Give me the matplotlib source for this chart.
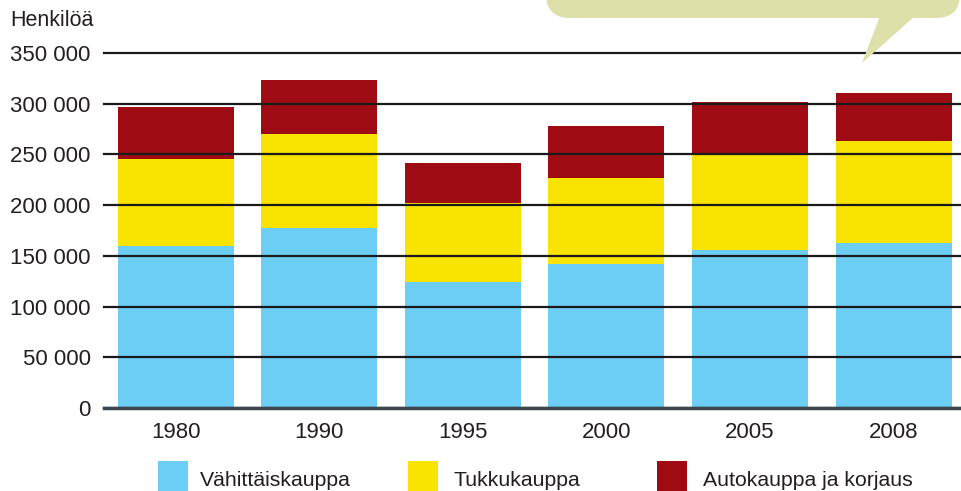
import matplotlib
matplotlib.use("Agg")
import matplotlib.pyplot as plt
from matplotlib.patches import FancyBboxPatch, Polygon, Rectangle
from matplotlib.transforms import Affine2D
from matplotlib.ticker import FuncFormatter

years = ["1980", "1990", "1995", "2000", "2005", "2008"]
vahittais = [159600, 177000, 123800, 141800, 155600, 162500]
tukku = [86200, 92700, 77900, 84500, 96100, 100600]
auto = [50600, 54000, 40100, 52000, 49600, 47100]
series_names = ["Vähittäiskauppa", "Tukkukauppa", "Autokauppa ja korjaus"]
colors = ["#6dcef5", "#f8e400", "#9e0b12"]

W, H = 961, 491
plt.rcParams["font.family"] = ["Liberation Sans", "DejaVu Sans"]

fig = plt.figure(figsize=(W / 100, H / 100), dpi=100)
ax = fig.add_axes([104 / W, (H - 408) / H, (W - 104) / W, (408 - 53) / H])

x = list(range(len(years)))
bottom2 = [a + b for a, b in zip(vahittais, tukku)]
ax.bar(x, vahittais, width=0.808, color=colors[0], zorder=1)
ax.bar(x, tukku, width=0.808, bottom=vahittais, color=colors[1], zorder=1)
ax.bar(x, auto, width=0.808, bottom=bottom2, color=colors[2], zorder=1)

ax.set_xlim(-0.5, 5.47)
ax.set_ylim(0, 350000)
ax.set_yticks(range(0, 350001, 50000))
ax.yaxis.set_major_formatter(FuncFormatter(lambda v, p: f"{int(v):,}".replace(",", " ")))
ax.set_xticks(x)
ax.set_xticklabels(years)
ax.set_axisbelow(False)
ax.yaxis.grid(True, color="#1a1a1a", lw=1.6)
for gl in ax.get_ygridlines():
    gl.set_clip_on(False)
ax.axhline(0, color="#3a4750", lw=2.5, zorder=3, clip_on=False)
for s in ax.spines.values():
    s.set_visible(False)
ax.tick_params(axis="both", length=0, labelsize=16, colors="#231f20")
ax.tick_params(axis="y", pad=9.5)
ax.tick_params(axis="x", pad=10)

# pixel coords, origin top-left
px = Affine2D().scale(1 / W, -1 / H).translate(0, 1) + fig.transFigure

fig.text(10, 20, "Henkilöä", transform=px, fontsize=15.5, color="#231f20", va="center", ha="left")

# speech bubble
bubble = FancyBboxPatch((546, -60), 414, 78, boxstyle="round,pad=0,rounding_size=24",
                        transform=px, facecolor="#dde0a8", edgecolor="none", zorder=5)
fig.patches.append(bubble)
tail = Polygon([(880, 16), (915, 16), (862, 63)], closed=True, transform=px,
               facecolor="#dde0a8", edgecolor="none", zorder=5)
fig.patches.append(tail)

# legend
leg_x = [158, 408, 657]
text_x = [200, 453, 703]
for lx, tx, name, c in zip(leg_x, text_x, series_names, colors):
    fig.patches.append(Rectangle((lx, 461), 30, 30, transform=px, facecolor=c, edgecolor="none"))
    fig.text(tx, 486, name, transform=px, fontsize=15.3, color="#231f20", va="baseline", ha="left")

fig.savefig("out.png", dpi=100)
